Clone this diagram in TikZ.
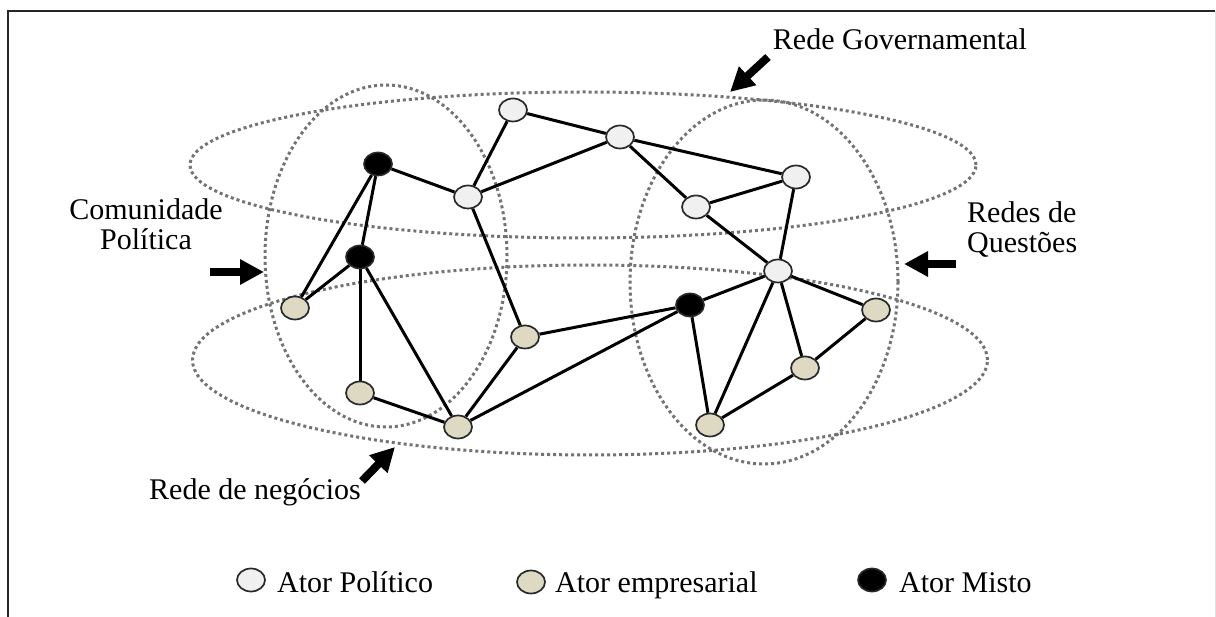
\documentclass[tikz,border=0pt]{standalone}
\usepackage{fontspec}
\setmainfont{Liberation Serif}
\usetikzlibrary{shapes.geometric,arrows.meta}
\definecolor{polfill}{RGB}{240,240,240}
\definecolor{empfill}{RGB}{221,217,195}
\definecolor{netgray}{RGB}{115,115,115}
\definecolor{rimgray}{RGB}{40,40,40}
\pgfdeclarelayer{nets}
\pgfdeclarelayer{links}
\pgfsetlayers{nets,links,main}
\begin{document}
\begin{tikzpicture}[x=1pt,y=-1pt,
  actor/.style={ellipse,draw=rimgray,line width=1.7pt,inner sep=0pt,
    minimum width=28pt,minimum height=23pt},
  pol/.style={actor,fill=polfill},
  emp/.style={actor,fill=empfill},
  mix/.style={actor,fill=black},
  link/.style={line width=3pt,black},
  net/.style={ellipse,draw=netgray,line width=3pt,inner sep=0pt,
    dash pattern=on 3pt off 3pt},
  lbl/.style={font=\fontsize{30}{30}\selectfont,inner sep=0pt},
  pointer/.style={line width=8pt,black,-{Triangle[length=24pt,width=24pt]}}
]
\useasboundingbox (0,0) rectangle (1216,617);

% frame
\draw[line width=2.5pt,black!85] (8,617) -- (8,11) -- (1215,11);
\draw[line width=1pt,black!12] (1215,11) -- (1215,617);

% the four networks
\begin{pgfonlayer}{nets}
  \node[net,minimum width=786pt,minimum height=146pt] (gov) at (583,165) {};
  \node[net,minimum width=795pt,minimum height=190pt] (neg) at (590,360) {};
  \node[net,minimum width=242pt,minimum height=342pt] (com) at (386,256) {};
  \node[net,minimum width=268pt,minimum height=364pt] (que) at (764,282) {};
\end{pgfonlayer}

% actors
\node[pol] (w1) at (513,110) {};
\node[pol] (w2) at (620,137) {};
\node[pol] (w3) at (468,197) {};
\node[pol] (w4) at (796,177) {};
\node[pol] (w5) at (696,207) {};
\node[pol] (w6) at (778,271) {};
\node[mix] (m1) at (378,164) {};
\node[mix] (m2) at (360,257) {};
\node[mix] (m3) at (690,305) {};
\node[emp] (t1) at (295,308) {};
\node[emp] (t2) at (525,337) {};
\node[emp] (t3) at (360,393) {};
\node[emp] (t4) at (458,427) {};
\node[emp] (t5) at (876,310) {};
\node[emp] (t6) at (805,368) {};
\node[emp] (t7) at (710,425) {};

% ties
\begin{pgfonlayer}{links}
  \foreach \a/\b in {m1/w3,m1/m2,m1/t1,m2/t1,m2/t3,m2/t4,t3/t4,
                     w3/w1,w3/w2,w3/t2,w1/w2,w2/w4,w2/w5,w5/w4,w5/w6,w4/w6,
                     w6/m3,w6/t5,w6/t6,w6/t7,t5/t6,t6/t7,
                     m3/t7,m3/t2,m3/t4,t2/t4}
    \draw[link] (\a) -- (\b);
\end{pgfonlayer}

% network labels and pointers
\node[lbl,anchor=base] (lgov) at (900,50) {Rede Governamental};
\node[lbl,anchor=base,align=center] (lcom) at (146,250) {Comunidade\\Política};
\node[lbl,anchor=base west,align=left] (lque) at (967,253) {Redes de\\Questões};
\node[lbl,anchor=base] (lneg) at (255,500) {Rede de negócios};

\coordinate (govTail) at (768,57);
\coordinate (govHead) at (730,92);
\coordinate (comTail) at (210,272);
\coordinate (comHead) at (264,272);
\coordinate (queTail) at (956,264);
\coordinate (queHead) at (904,264);
\coordinate (negTail) at (362,481);
\coordinate (negHead) at (395,447);
\draw[pointer] (govTail) -- (govHead);
\draw[pointer] (comTail) -- (comHead);
\draw[pointer] (queTail) -- (queHead);
\draw[pointer] (negTail) -- (negHead);

% legend
\node[pol] (kpol) at (251,580) {};
\node[lbl,anchor=base west] (kpolt) at (277,592) {Ator Político};
\node[emp] (kemp) at (531,582) {};
\node[lbl,anchor=base west] (kempt) at (555,592) {Ator empresarial};
\node[mix] (kmix) at (872,580) {};
\node[lbl,anchor=base west] (kmixt) at (899,592) {Ator Misto};
\end{tikzpicture}
\end{document}
